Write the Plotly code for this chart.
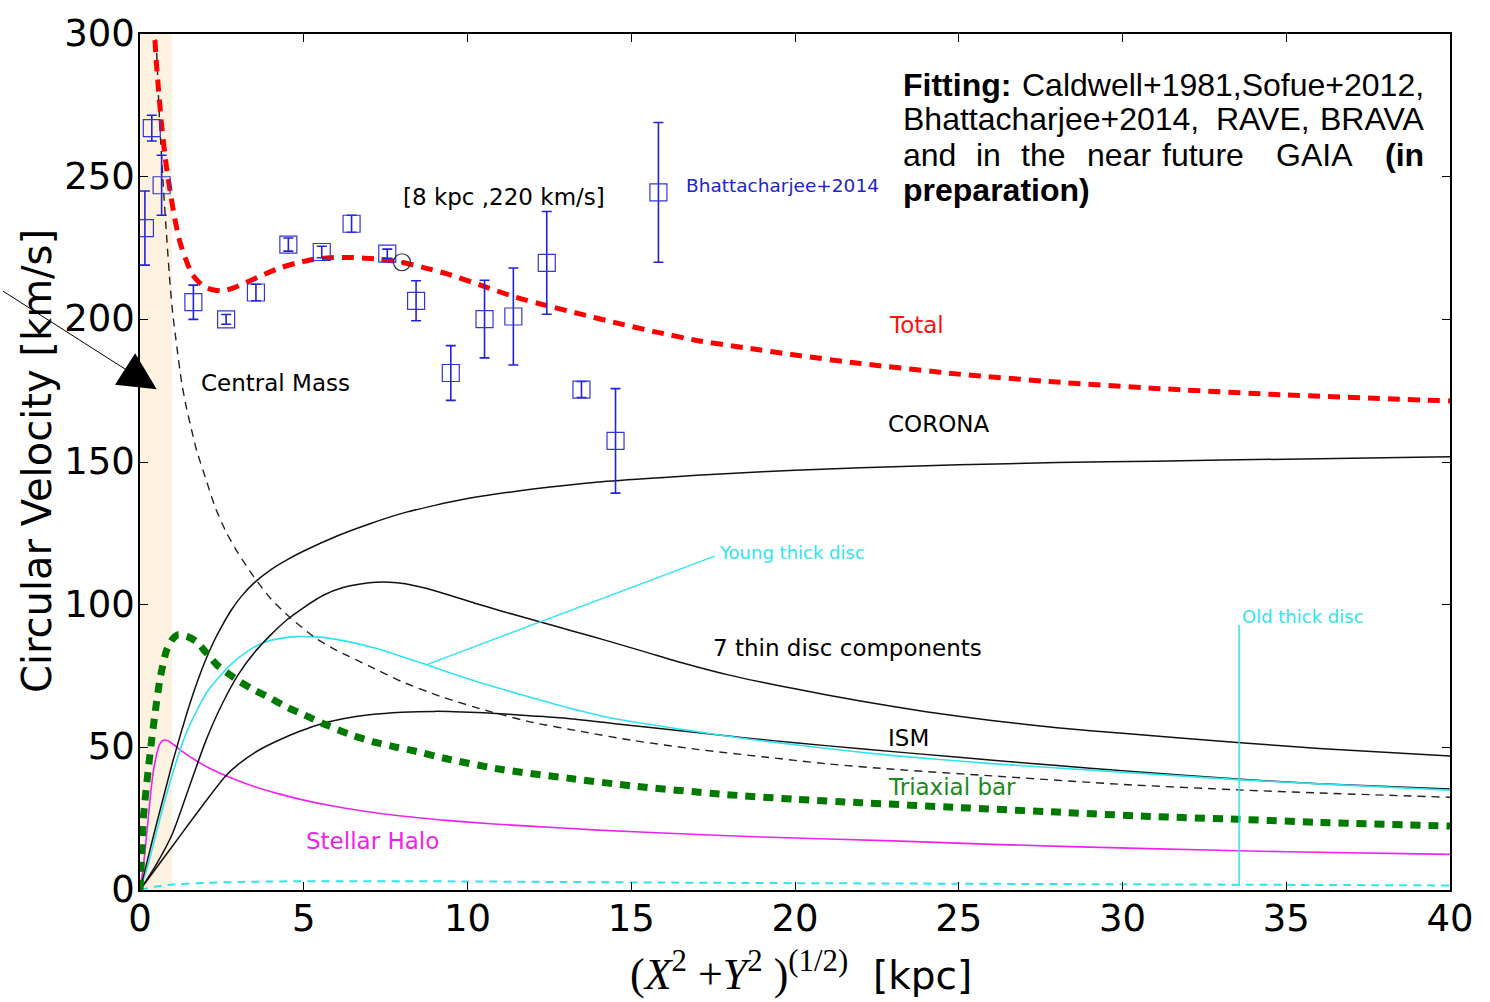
import plotly.graph_objects as go

# ---------------- data ----------------
R_TOTAL = [0.42, 0.5, 0.66, 0.8, 0.92, 1.05, 1.22, 1.4, 1.58, 1.8, 2.04, 2.3, 2.54, 2.9, 3.26, 3.8,
           4.27, 4.8, 5.29, 5.8, 6.3, 6.8, 7.33, 8.0, 8.6, 9.36, 10.4, 11.4, 12.42, 13.4, 14.45, 15.7,
           17.0, 18.5, 20, 22, 25, 28, 31, 35, 40]
V_TOTAL = [305, 290, 268, 254, 245, 236, 227, 221, 216, 213, 211, 210.2, 210, 211.2, 213, 215.8,
           218, 219.8, 221, 221.6, 221.7, 221.5, 221, 220, 218.3, 216, 212, 208, 204.8, 202, 199, 195.7,
           192.6, 190, 187.5, 184.5, 180.8, 178, 175.8, 173.5, 171.4]

R_CENTRAL = [0.46, 0.5, 0.6, 0.71, 0.82, 0.92, 1.0, 1.13, 1.27, 1.4, 1.58, 1.73, 2.04, 2.3, 2.65, 3.0,
             3.46, 4.0, 4.58, 5.4, 6.0, 7.0, 8.0, 9.26, 10.7, 12, 13.5, 15, 17, 19, 21, 23, 26, 30,
             33.5, 36, 40]
V_CENTRAL = [308, 296, 269, 247, 228, 212, 202, 190, 178, 170, 161, 154, 143, 134, 125, 118,
             110, 102, 95.5, 88, 84, 78.5, 73, 67.5, 62.5, 58.7, 55.5, 52.5, 49.3, 46.7, 44.2, 42.3, 40, 37,
             35.1, 34, 32.5]

R_CORONA = [0, 0.25, 0.5, 0.75, 1.0, 1.25, 1.5, 1.75, 2.0, 2.25, 2.5, 2.8, 3.1, 3.5, 4.0, 4.5, 5, 6, 7,
            8, 9, 10, 12, 14, 16, 18, 20, 22, 25, 28, 31, 35, 40]
V_CORONA = [0, 11.5, 23, 34, 45, 55, 64.5, 73, 80.5, 87, 92.5, 98.3, 103, 107.8, 112.3, 115.8, 118.8,
            124, 128.3, 132, 134.8, 137.2, 140.5, 143, 144.6, 146, 147.1, 148, 149, 149.8, 150.3, 151,
            151.8]

R_THIN = [0, 0.5, 1.0, 1.5, 2.0, 2.5, 3, 3.5, 4, 4.5, 5, 5.6, 6.2, 7, 7.6, 8.1, 9, 10.2, 11, 12.2, 13.2,
          14.25, 15.5, 16.6, 18, 19, 20, 22, 24, 26, 28, 30, 33.5, 36, 40]
V_THIN = [0, 9, 20, 36, 52, 65, 75.5, 83.3, 89.5, 94.8, 99, 103.3, 106, 107.7, 107.9, 107.3, 104.9,
          100.6, 97.9, 94, 90.8, 87.4, 83.2, 79.5, 75.3, 72.8, 70.5, 66.2, 62.5, 59.4, 56.9, 54.9, 51.7,
          49.6, 47]

R_ISM = [0, 0.5, 1, 1.5, 2, 2.6, 3, 3.6, 4.2, 4.9, 5.5, 6.2, 7, 8, 9, 9.6, 10.5, 12, 13, 14.5, 16.5,
         18.5, 20, 22, 25, 28, 30, 33.5, 36, 40]
V_ISM = [0, 7.8, 15.5, 23.3, 31, 39.8, 44, 48.8, 52.3, 55.7, 58.1, 60, 61.4, 62.3, 62.6, 62.5, 62.1,
         61, 60.2, 58.3, 55.8, 53.3, 51.6, 49.5, 46.5, 43.6, 41.8, 38.9, 37.2, 35.4]

R_YOUNG = [0, 0.25, 0.61, 1.0, 1.43, 2.04, 2.75, 3.3, 3.77, 4.3, 4.8, 5.3, 5.8, 6.5, 7.2, 7.84, 8.74,
           9.5, 10.5, 12, 13.1, 14.5, 16.6, 18.5, 20, 22, 23.1, 26, 30, 33.5, 36, 40]
V_YOUNG = [0, 9, 25, 41, 55.5, 69.3, 78.8, 83.8, 86.7, 88.2, 88.8, 88.7, 88.2, 86.7, 84.7, 82.4, 79,
           76, 72.3, 67.3, 63.8, 60, 56.2, 53, 50.9, 48.3, 47, 44.3, 41.3, 38.7, 37.2, 35]

R_OLD = [0, 0.5, 1, 2, 3, 4, 6, 8, 10, 13, 16, 20, 25, 30, 35, 40]
V_OLD = [0, 1.2, 1.9, 2.5, 2.8, 3.0, 3.1, 3.1, 3.0, 2.8, 2.6, 2.4, 2.2, 2.0, 1.8, 1.6]

R_HALO = [0, 0.1, 0.2, 0.3, 0.4, 0.51, 0.6, 0.71, 0.85, 1.02, 1.3, 1.73, 2.2, 2.75, 3.5, 4.27, 5, 5.8,
          6.8, 7.84, 9.36, 10.7, 12, 14, 16.5, 19, 23, 26, 30.8, 35, 40]
V_HALO = [0, 8, 19, 31, 41, 47.6, 51, 52.5, 52.3, 51, 48.5, 45.2, 42.2, 39.4, 36.2, 33.6, 31.5, 29.6,
          27.7, 26.1, 24.4, 23.2, 22.3, 21, 19.7, 18.6, 17.2, 16, 14.5, 13.4, 12.5]

R_BAR = [0, 0.05, 0.1, 0.25, 0.36, 0.46, 0.61, 0.81, 1.0, 1.17, 1.45, 1.73, 2.0, 2.34, 2.7, 3.05, 3.5,
         3.97, 4.5, 4.99, 5.7, 6.41, 7.1, 7.84, 8.39, 9.36, 11, 13.07, 15, 17.73, 20, 22, 25, 28, 30.8,
         33.5, 36, 40]
V_BAR = [0, 12, 25, 42, 53, 62, 74, 84, 88, 89.5, 88.8, 87, 83.5, 79, 75.8, 73, 70,
         67.3, 64, 61.5, 57.8, 54.5, 52, 50, 48.7, 46, 42.3, 39.2, 36.5, 33.6, 31.8, 30.6, 28.9, 27.3, 25.8,
         24.8, 23.7, 22.4]

DATA_R = [0.15, 0.36, 0.66, 1.63, 2.63, 3.54, 4.53, 5.55, 6.46, 7.55, 8.43, 9.49, 10.52, 11.4, 12.42,
          13.48, 14.52, 15.83]
DATA_V = [232, 267, 247, 206, 200, 209.4, 226.2, 223.6, 233.5, 223, 206.5, 181.2, 200.1, 201, 219.8,
          175.4, 157.4, 244.5]
DATA_E = [13, 4.5, 10.5, 6, 1.7, 2.9, 2.3, 2, 3, 1.6, 7, 9.6, 13.6, 17, 18, 2.8, 18.3, 24.5]

SUN_R = [8.0]
SUN_V = [220]

BAND_R = [0, 0.98]          # shaded inner region
YOUNG_PTR_R = [8.76, 17.55]  # leader line to "Young thick disc"
YOUNG_PTR_V = [79.0, 117.0]
OLD_PTR_R = [33.56, 33.56]   # leader line to "Old thick disc"
OLD_PTR_V = [1.7, 93.0]

X_TICKS = [0, 5, 10, 15, 20, 25, 30, 35, 40]
Y_TICKS = [0, 50, 100, 150, 200, 250, 300]

# ---------------- figure ----------------
W, H = 1490, 1002
L, R, T, B = 140, 40, 28, 112
PW, PH = W - L - R, H - T - B

BLACK = "#111111"
CYAN = "#2fe3ef"
MAGENTA = "#ee22ee"
fig = go.Figure()


def curve(x, y, color, width, dash="solid", smooth=0.6):
    fig.add_trace(go.Scatter(x=x, y=y, mode="lines", showlegend=False, hoverinfo="skip",
                             line=dict(color=color, width=width, dash=dash, shape="spline",
                                       smoothing=smooth)))


curve(R_OLD, V_OLD, CYAN, 2, "8px,6px")
curve(R_HALO, V_HALO, MAGENTA, 1.6)
curve(R_ISM, V_ISM, BLACK, 1.5)
curve(R_YOUNG, V_YOUNG, CYAN, 1.6)
curve(R_THIN, V_THIN, BLACK, 1.5)
curve(R_CORONA, V_CORONA, BLACK, 1.5)
curve(R_CENTRAL, V_CENTRAL, "#222222", 1.4, "8px,6px")
curve(R_BAR, V_BAR, "#007a00", 7, "10px,8px")
curve(R_TOTAL, V_TOTAL, "#ff0000", 5, "12px,8px")

# leader lines
fig.add_trace(go.Scatter(x=YOUNG_PTR_R, y=YOUNG_PTR_V, mode="lines", showlegend=False,
                         hoverinfo="skip", line=dict(color=CYAN, width=1.5)))
fig.add_trace(go.Scatter(x=OLD_PTR_R, y=OLD_PTR_V, mode="lines", showlegend=False,
                         hoverinfo="skip", line=dict(color=CYAN, width=1.5)))

# data points
fig.add_trace(go.Scatter(
    x=DATA_R, y=DATA_V, mode="markers", showlegend=False,
    marker=dict(symbol="square-open", size=17, color="#3535d5", line=dict(width=1.2, color="#3535d5")),
    error_y=dict(type="data", array=DATA_E, visible=True, color="#2222dd", thickness=1.6, width=5)))

# sun
fig.add_trace(go.Scatter(x=SUN_R, y=SUN_V, mode="markers", showlegend=False,
                         marker=dict(symbol="circle-open-dot", size=17, color="#333333",
                                     line=dict(width=1.2, color="#333333"))))

fig.add_vrect(x0=BAND_R[0], x1=BAND_R[1], fillcolor="#fdf1df", line_width=0, layer="below")


def px_ann(text, px, py, size, color="black", xanchor="left", family="DejaVu Sans", **kw):
    fig.add_annotation(text=text, xref="paper", yref="paper",
                       x=(px - L) / PW, y=(H - B - py) / PH, xanchor=xanchor, yanchor="middle",
                       showarrow=False, font=dict(family=family, size=size, color=color), **kw)


px_ann("Central Mass", 199, 379, 23)
px_ann("[8 kpc ,220 km/s]", 401, 192, 23)
px_ann("Bhattacharjee+2014", 684, 181, 18.5, "#2222cc")
px_ann("Total", 887, 321, 23, "#ff1010")
px_ann("CORONA", 886, 421, 23)
px_ann("Young thick disc", 717, 550, 18, CYAN)
px_ann("7 thin disc components", 711, 646, 23)
px_ann("ISM", 886, 737, 23)
px_ann("Triaxial bar", 886, 786, 23, "#1a8a1a")
px_ann("Stellar Halo", 304, 841, 23, MAGENTA)
px_ann("Old thick disc", 1240, 615, 18, CYAN)

# fitting block (justified by hand)
FS = 32
LS = "Liberation Sans"
px_ann("<b>Fitting:</b>", 901, 79, FS, family=LS)
px_ann("Caldwell+1981,Sofue+2012,", 1426, 79, FS, family=LS, xanchor="right")
px_ann("Bhattacharjee+2014,", 901, 114, FS, family=LS)
px_ann("RAVE,", 1214, 114, FS, family=LS)
px_ann("BRAVA", 1426, 114, FS, family=LS, xanchor="right")
for word, xpos in [("and", 901), ("in", 974), ("the", 1019), ("near", 1085), ("future", 1160),
                   ("GAIA", 1274)]:
    px_ann(word, xpos, 150, FS, family=LS)
px_ann("<b>(in</b>", 1426, 150, FS, family=LS, xanchor="right")
px_ann("<b>preparation)</b>", 901, 185, FS, family=LS)

# axis titles
px_ann("Circular Velocity [km/s]", 37, 458, 40, xanchor="center", textangle=-90)
px_ann('<span style="font-family:\'Liberation Serif\';font-size:44px">(<i>X</i><sup>2</sup> +'
       '<i>Y</i><sup>2</sup> )<sup>(1/2)</sup></span>  [kpc]', 801, 972, 39, xanchor="center")

# arrow
fig.add_annotation(x=0.51, y=175.5, xref="x", yref="y", ax=-157, ay=-100, axref="pixel",
                   ayref="pixel", showarrow=True, arrowhead=2, arrowsize=7.5, arrowwidth=1,
                   arrowcolor="black", text=" ")

axis_common = dict(showline=True, linecolor="black", linewidth=1.5, mirror="ticks",
                   ticks="inside", ticklen=8, tickwidth=1, tickcolor="black",
                   showgrid=False, zeroline=False,
                   tickfont=dict(family="DejaVu Sans", size=37, color="black"))
fig.update_xaxes(range=[0, 40], tickvals=X_TICKS, ticktext=[str(v) for v in X_TICKS],
                 ticklabelstandoff=-5, **axis_common)
fig.update_yaxes(range=[0, 300], tickvals=Y_TICKS, ticktext=[str(v) for v in Y_TICKS],
                 ticklabelstandoff=-4, ticklabelshift=-1, **axis_common)

fig.update_layout(width=W, height=H, margin=dict(l=L, r=R, t=T, b=B),
                  paper_bgcolor="white", plot_bgcolor="white", showlegend=False)

fig.write_html("out.html", config={"displayModeBar": False},
               post_script="document.body.style.margin='0';")
